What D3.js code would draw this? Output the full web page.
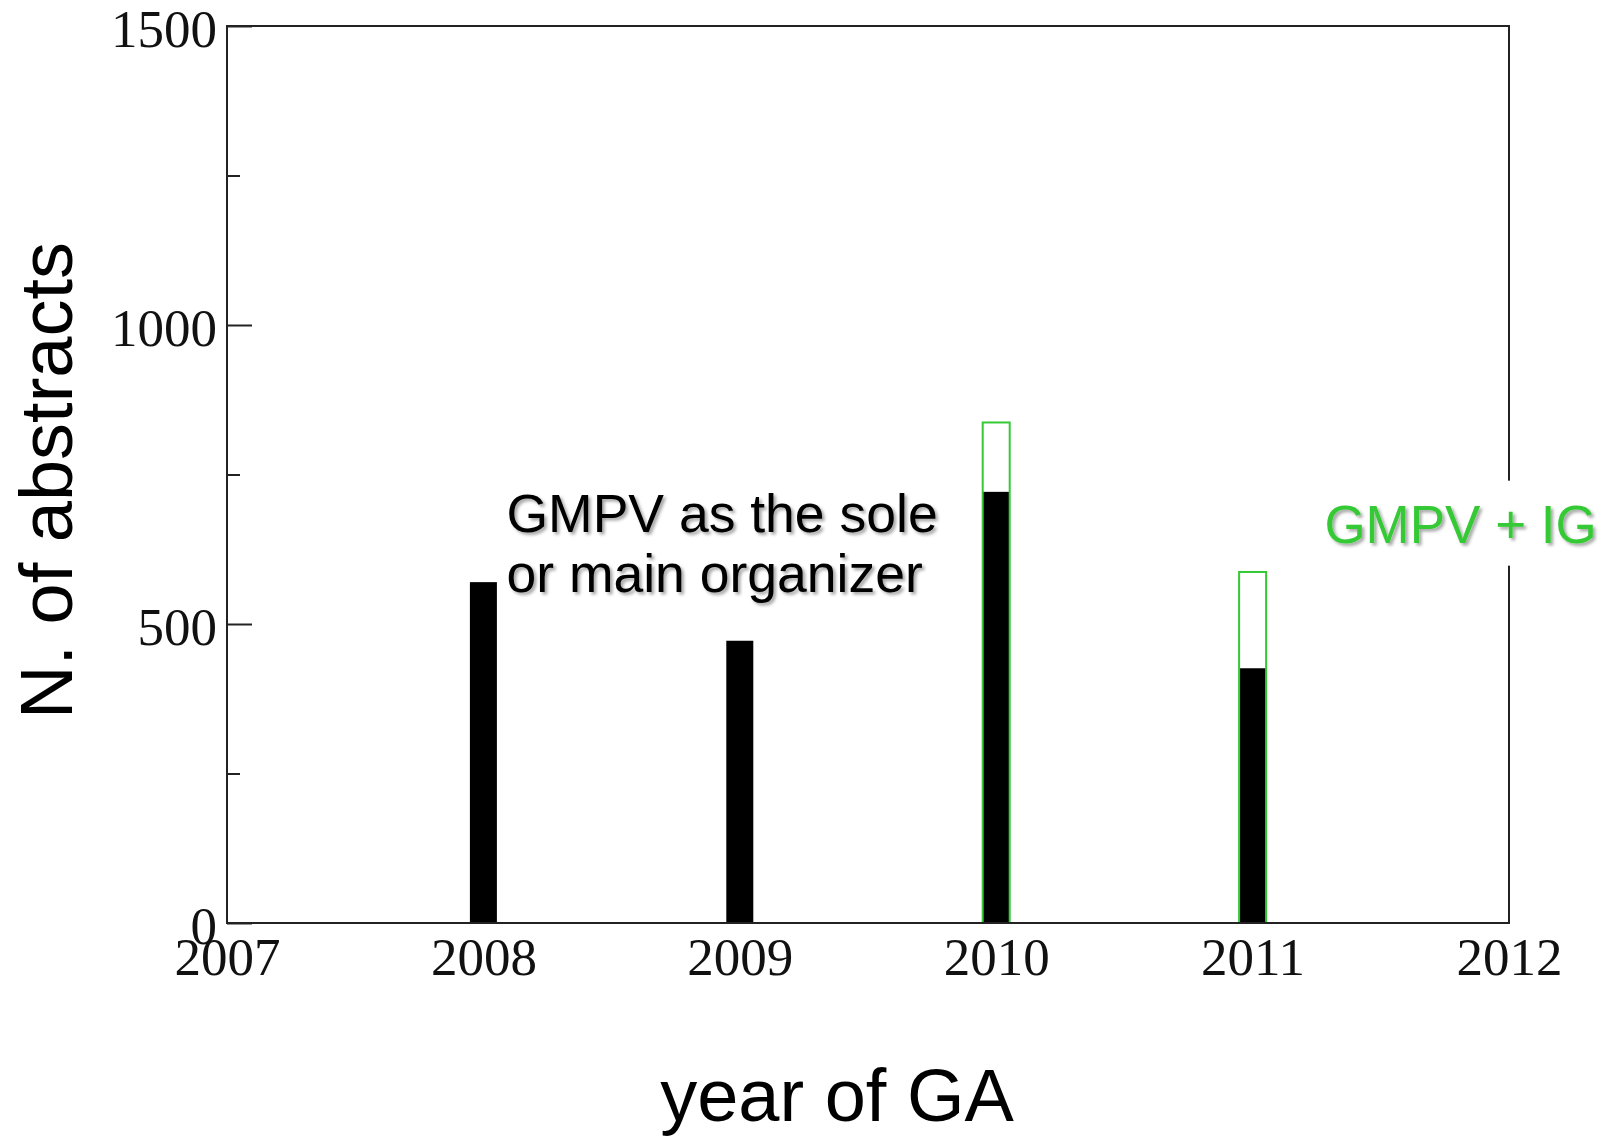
<!DOCTYPE html>
<html>
<head>
<meta charset="utf-8">
<script src="https://cdn.jsdelivr.net/npm/d3@7"></script>
<style>
  html, body { margin: 0; padding: 0; background: #fff; }
  svg { display: block; }
</style>
</head>
<body>
<svg id="chart" width="1610" height="1138"></svg>
<script>
// Values
const years = [2008, 2009, 2010, 2011];
const soleOrganizer = [570, 472, 721, 426];   // black bars
const withIG = [null, null, 837, 587];        // green outlined totals
const yMajorTicks = [0, 500, 1000, 1500];
const yMinorTicks = [250, 750, 1250];
const xTicks = [2007, 2008, 2009, 2010, 2011, 2012];

// Annotation anchors in data space
const noteSole = { x: 2008.09, y: 654, lines: ["GMPV as the sole", "or main organizer"] };
const noteIG = { x: 2011.28, y: 636, text: "GMPV + IG" };

const svg = d3.select("#chart");
const W = +svg.attr("width");
const H = +svg.attr("height");
const margin = { top: 26, right: 101, bottom: 215, left: 227 };
const innerW = W - margin.left - margin.right;
const innerH = H - margin.top - margin.bottom;

const green = "#36c936";
const sans = "'Liberation Sans', Arial, sans-serif";
const serif = "'Liberation Serif', 'Times New Roman', serif";

const x = d3.scaleLinear().domain([2007, 2012]).range([0, innerW]);
const y = d3.scaleLinear().domain([0, 1500]).range([innerH, 0]);

// drop shadow for the annotation texts
const defs = svg.append("defs");
const f = defs.append("filter").attr("id", "shadow")
    .attr("x", "-10%").attr("y", "-20%").attr("width", "130%").attr("height", "150%");
f.append("feDropShadow")
    .attr("dx", 2.5).attr("dy", 2.5).attr("stdDeviation", 1.5)
    .attr("flood-color", "#000").attr("flood-opacity", 0.35);

const g = svg.append("g").attr("transform", `translate(${margin.left},${margin.top})`);

// Bars
const barW = 27;
const rows = years.map((yr, i) => ({ year: yr, sole: soleOrganizer[i], total: withIG[i] }));

g.selectAll(".bar-sole")
    .data(rows)
    .enter()
    .append("rect")
    .attr("class", "bar-sole")
    .attr("x", d => x(d.year) - barW / 2)
    .attr("y", d => y(d.sole))
    .attr("width", barW)
    .attr("height", d => y(0) - y(d.sole))
    .attr("fill", "#000");

g.selectAll(".bar-total")
    .data(rows.filter(d => d.total != null))
    .enter()
    .append("rect")
    .attr("class", "bar-total")
    .attr("x", d => x(d.year) - barW / 2)
    .attr("y", d => y(d.total))
    .attr("width", barW)
    .attr("height", d => y(0) - y(d.total))
    .attr("fill", "none")
    .attr("stroke", green)
    .attr("stroke-width", 2);

// Y axis: major ticks (inward) with labels
const yAxis = d3.axisLeft(y)
    .tickValues(yMajorTicks)
    .tickSize(-25)
    .tickPadding(10)
    .tickFormat(d3.format("d"));
const ya = g.append("g").call(yAxis);
ya.select(".domain").remove();
ya.selectAll("line").attr("stroke", "#222").attr("stroke-width", 2);
ya.selectAll("text")
    .attr("dy", "0.38em")
    .style("font-family", serif)
    .style("font-size", "53px")
    .attr("fill", "#111");

// Y axis: minor ticks
const ym = g.append("g").call(d3.axisLeft(y).tickValues(yMinorTicks).tickSize(-13).tickFormat(""));
ym.select(".domain").remove();
ym.selectAll("line").attr("stroke", "#222").attr("stroke-width", 2);

// X axis: labels only
const xAxis = d3.axisBottom(x)
    .tickValues(xTicks)
    .tickSize(0)
    .tickFormat(d3.format("d"));
const xa = g.append("g").attr("transform", `translate(0,${innerH})`).call(xAxis);
xa.select(".domain").remove();
xa.selectAll("text")
    .attr("y", 52)
    .attr("dy", 0)
    .style("font-family", serif)
    .style("font-size", "53px")
    .attr("fill", "#111");

// Plot frame
g.append("rect")
    .attr("x", 0).attr("y", 0)
    .attr("width", innerW).attr("height", innerH)
    .attr("fill", "none")
    .attr("stroke", "#222")
    .attr("stroke-width", 2);

// Axis titles
svg.append("text")
    .attr("transform", `translate(72,${margin.top + innerH / 2 + 6}) rotate(-90)`)
    .attr("text-anchor", "middle")
    .style("font-family", sans)
    .style("font-size", "74px")
    .attr("fill", "#000")
    .text("N. of abstracts");

svg.append("text")
    .attr("x", margin.left + innerW / 2 - 31)
    .attr("y", 1121)
    .attr("text-anchor", "middle")
    .style("font-family", sans)
    .style("font-size", "74px")
    .attr("fill", "#000")
    .text("year of GA");

// Annotation: GMPV as the sole or main organizer
const t1 = g.append("text")
    .attr("x", x(noteSole.x))
    .attr("y", y(noteSole.y))
    .attr("filter", "url(#shadow)")
    .style("font-family", sans)
    .style("font-size", "53.5px")
    .attr("fill", "#000");
t1.selectAll("tspan")
    .data(noteSole.lines)
    .enter()
    .append("tspan")
    .attr("x", x(noteSole.x))
    .attr("dy", (d, i) => i === 0 ? 0 : 60)
    .text(d => d);

// Annotation: GMPV + IG (box covers the right frame line)
g.append("rect")
    .attr("x", x(noteIG.x) - 15)
    .attr("y", y(noteIG.y) - 62)
    .attr("width", W - margin.left - x(noteIG.x) + 15)
    .attr("height", 85)
    .attr("fill", "#fff");
g.append("text")
    .attr("x", x(noteIG.x))
    .attr("y", y(noteIG.y))
    .attr("filter", "url(#shadow)")
    .style("font-family", sans)
    .style("font-size", "53px")
    .attr("fill", green)
    .text(noteIG.text);
</script>
</body>
</html>
